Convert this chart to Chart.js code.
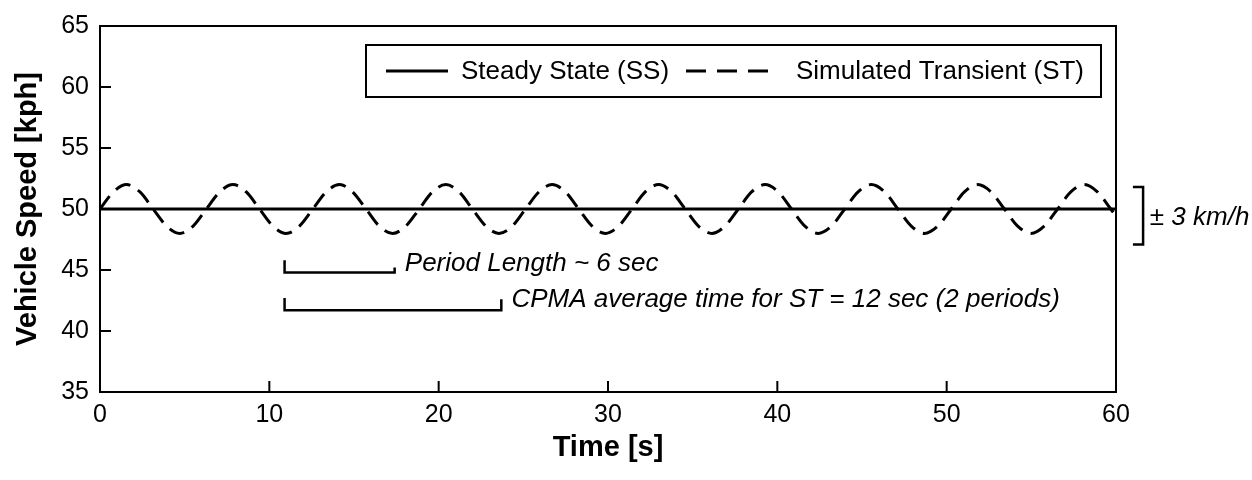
<!DOCTYPE html>
<html>
<head>
<meta charset="utf-8">
<script src="https://cdn.jsdelivr.net/npm/chart.js@4"></script>
<style>
html, body { margin: 0; padding: 0; background: #fff; }
#wrap { width: 1252px; height: 480px; }
</style>
</head>
<body>
<div id="wrap"><canvas id="myChart"></canvas></div>
<script>
// data
const timeSec = [0.00, 0.79, 1.57, 2.36, 3.14, 3.93, 4.71, 5.50, 6.28, 7.07, 7.85, 8.64, 9.42, 10.21, 10.99, 11.78,
  12.57, 13.35, 14.14, 14.92, 15.71, 16.49, 17.28, 18.06, 18.85, 19.63, 20.42, 21.21, 21.99, 22.78, 23.56, 24.35,
  25.13, 25.92, 26.70, 27.49, 28.27, 29.06, 29.85, 30.63, 31.42, 32.20, 32.99, 33.77, 34.56, 35.34, 36.13, 36.91,
  37.70, 38.48, 39.27, 40.06, 40.84, 41.63, 42.41, 43.20, 43.98, 44.77, 45.55, 46.34, 47.12, 47.91, 48.69, 49.48,
  50.27, 51.05, 51.84, 52.62, 53.41, 54.19, 54.98, 55.76, 56.55, 57.33, 58.12, 58.90, 59.69, 60.00];
const transientSpeed = [50.0, 51.4, 52.0, 51.4, 50.0, 48.6, 48.0, 48.6, 50.0, 51.4, 52.0, 51.4, 50.0, 48.6, 48.0, 48.6,
  50.0, 51.4, 52.0, 51.4, 50.0, 48.6, 48.0, 48.6, 50.0, 51.4, 52.0, 51.4, 50.0, 48.6, 48.0, 48.6,
  50.0, 51.4, 52.0, 51.4, 50.0, 48.6, 48.0, 48.6, 50.0, 51.4, 52.0, 51.4, 50.0, 48.6, 48.0, 48.6,
  50.0, 51.4, 52.0, 51.4, 50.0, 48.6, 48.0, 48.6, 50.0, 51.4, 52.0, 51.4, 50.0, 48.6, 48.0, 48.6,
  50.0, 51.4, 52.0, 51.4, 50.0, 48.6, 48.0, 48.6, 50.0, 51.4, 52.0, 51.4, 50.0, 49.4];
const steadyTime = [0, 60];
const steadySpeed = [50, 50];

const xTicks = [0, 10, 20, 30, 40, 50, 60];
const yTicks = [35, 40, 45, 50, 55, 60, 65];

// annotation brackets (data units)
const periodX = [10.9, 10.9, 17.4, 17.4];
const periodY = [45.8, 44.8, 44.8, 45.2];
const cpmaX = [10.9, 10.9, 23.7, 23.7];
const cpmaY = [42.7, 41.7, 41.7, 42.6];
const rangeX = [61.0, 61.6, 61.6, 61.0];
const rangeY = [51.8, 51.8, 47.1, 47.1];

const noteText = ['Period Length ~ 6 sec', 'CPMA average time for ST = 12 sec (2 periods)', '\u00b1 3 km/h'];
const noteX = [18.0, 24.3, 62.0];
const noteY = [45.5, 42.6, 49.3];

const FONT = '"Liberation Sans", Arial, Helvetica, sans-serif';

function pts(xs, ys) {
  return xs.map((x, i) => ({ x: x, y: ys[i] }));
}

function bracket(xs, ys) {
  return {
    label: '', data: pts(xs, ys), borderColor: '#000', borderWidth: 2.5,
    pointRadius: 0, tension: 0, clip: false
  };
}

const extras = {
  id: 'extras',
  afterDraw(chart) {
    const ctx = chart.ctx;
    const a = chart.chartArea;
    const xs = chart.scales.x, ys = chart.scales.y;
    ctx.save();
    ctx.strokeStyle = '#000';
    ctx.fillStyle = '#000';
    // inward ticks
    ctx.lineWidth = 2;
    ctx.beginPath();
    xTicks.forEach(v => {
      const px = xs.getPixelForValue(v);
      ctx.moveTo(px, a.bottom); ctx.lineTo(px, a.bottom - 11);
    });
    yTicks.forEach(v => {
      const py = ys.getPixelForValue(v);
      ctx.moveTo(a.left, py); ctx.lineTo(a.left + 11, py);
    });
    ctx.stroke();
    // frame
    ctx.strokeRect(a.left, a.top, a.right - a.left, a.bottom - a.top);

    // notes
    ctx.font = 'italic 26px ' + FONT;
    ctx.textBaseline = 'middle';
    ctx.textAlign = 'left';
    noteText.forEach((t, i) => {
      ctx.fillText(t, xs.getPixelForValue(noteX[i]), ys.getPixelForValue(noteY[i]));
    });

    // legend box
    const lx = 366, ly = 45, lw = 735, lh = 52, my = ly + lh / 2;
    ctx.lineWidth = 2;
    ctx.setLineDash([]);
    ctx.strokeRect(lx, ly, lw, lh);
    const ds = chart.data.datasets;
    ctx.font = '26px ' + FONT;
    ctx.lineWidth = 3;
    ctx.beginPath(); ctx.moveTo(386, my); ctx.lineTo(448, my); ctx.stroke();
    ctx.fillText(ds[0].label, 461, my + 1);
    ctx.setLineDash([20, 11]);
    ctx.beginPath(); ctx.moveTo(686, my); ctx.lineTo(771, my); ctx.stroke();
    ctx.setLineDash([]);
    ctx.fillText(ds[1].label, 796, my + 1);
    ctx.restore();
  }
};

const ctx = document.getElementById('myChart').getContext('2d');
const myChart = new Chart(ctx, {
  type: 'line',
  data: {
    datasets: [
      {
        label: 'Steady State (SS)',
        data: pts(steadyTime, steadySpeed),
        borderColor: '#000', borderWidth: 3, pointRadius: 0, tension: 0
      },
      {
        label: 'Simulated Transient (ST)',
        data: pts(timeSec, transientSpeed),
        borderColor: '#000', borderWidth: 3, borderDash: [16, 9],
        pointRadius: 0, cubicInterpolationMode: 'monotone'
      },
      bracket(periodX, periodY),
      bracket(cpmaX, cpmaY),
      bracket(rangeX, rangeY)
    ]
  },
  options: {
    responsive: true,
    maintainAspectRatio: false,
    animation: false,
    layout: { padding: { top: 21, right: 136, left: 0, bottom: 0 } },
    plugins: { legend: { display: false }, tooltip: { enabled: false } },
    scales: {
      x: {
        type: 'linear', min: 0, max: 60,
        afterBuildTicks: s => { s.ticks = xTicks.map(v => ({ value: v })); },
        afterFit: s => { s.height = 88; },
        grid: { display: false, drawTicks: false },
        border: { display: false },
        ticks: { color: '#000', font: { family: FONT, size: 25 }, padding: 8, maxRotation: 0 },
        title: {
          display: true, text: 'Time [s]', color: '#000',
          font: { family: FONT, size: 29, weight: 'bold' }, padding: { top: 4, bottom: 15 }
        }
      },
      y: {
        type: 'linear', min: 35, max: 65,
        afterBuildTicks: s => { s.ticks = yTicks.map(v => ({ value: v })); },
        afterFit: s => { s.width = 100; },
        grid: { display: false, drawTicks: false },
        border: { display: false },
        ticks: { color: '#000', font: { family: FONT, size: 25 }, padding: 11 },
        title: {
          display: true, text: 'Vehicle Speed [kph]', color: '#000',
          font: { family: FONT, size: 29, weight: 'bold' }, padding: { top: 11, bottom: 4 }
        }
      }
    }
  },
  plugins: [extras]
});
</script>
</body>
</html>
